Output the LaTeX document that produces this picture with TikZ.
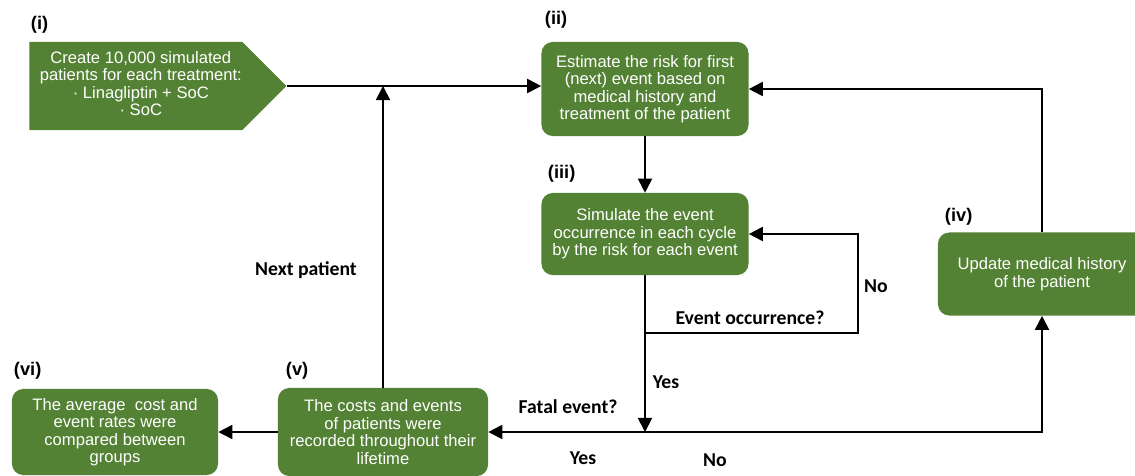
\documentclass[tikz,border=0pt]{standalone}
\usepackage{fontspec}
\setmainfont{Liberation Sans}
\newfontfamily\labelfont{Carlito}
\usepackage{xcolor}
\usepackage{tikz}
\usetikzlibrary{arrows.meta,positioning,shapes.symbols,calc}
\definecolor{StepGreen}{RGB}{84,130,53}

\begin{document}
\begin{tikzpicture}[x=0.025cm,y=-0.025cm,
      box/.style={rectangle,rounded corners=8pt,fill=StepGreen,text=white,
                  inner sep=1pt,font=\fontsize{11.8}{12.4}\selectfont,align=center},
      tag/.style={anchor=west,font=\fontsize{13}{15}\selectfont\bfseries},
      cond/.style={font=\labelfont\fontsize{14}{16}\selectfont\bfseries},
      lin/.style={line width=1.3pt},
      arr/.style={lin,-{Triangle[length=10pt,width=10pt]}}]
    \useasboundingbox (0,0) rectangle (1135,475);
    % boxes
    \node[signal,signal to=east,signal pointer angle=90,fill=StepGreen,text=white,
          minimum width=6.425cm,minimum height=2.2cm,inner sep=0pt,anchor=west,
          font=\fontsize{11.8}{12.4}\selectfont]
          (create) at (29,86) {\hspace{0.25cm}\begin{tabular}{@{}c@{}}Create 10,000 simulated\\
          patients for each treatment:\\· Linagliptin + SoC\\· SoC\end{tabular}};
    \node[box,minimum width=5.175cm,minimum height=2.35cm](estimate) at (645,89)
          {Estimate the risk for first\\(next) event based on\\medical history and\\treatment of the patient};
    \node[box,minimum width=5.175cm,minimum height=2.05cm](simulate) at (645,234)
          {Simulate the event\\occurrence in each cycle\\by the risk for each event};
    \node[box,minimum width=5.2cm,minimum height=2.075cm](update) at (1042,274)
          {Update medical history\\of the patient};
    \node[box,minimum width=5.25cm,minimum height=2.2cm](record) at (383,432)
          {The costs and events\\of patients were\\recorded throughout their\\lifetime};
    \node[box,minimum width=5.15cm,minimum height=2.15cm](compare) at (115,432)
          {The average\ \ cost and\\event rates were\\compared between\\groups};
    % step tags
    \node[tag](tagi) at (26,25){(i)};
    \node[tag](tagii) at (540,20){(ii)};
    \node[tag](tagiii) at (543,174){(iii)};
    \node[tag](tagiv) at (940,217){(iv)};
    \node[tag](tagv) at (281,371){(v)};
    \node[tag](tagvi) at (9,371){(vi)};
    % helper points
    \coordinate (occ) at (simulate.south |- 0,333);
    \coordinate (noturn) at (858,333);
    \coordinate (fatal) at (simulate.south |- record.east);
    % connectors
    \draw[arr](create.east)--(create.east -| estimate.west);
    \draw[arr](record.north)--(record.north |- create.east);
    \draw[arr](estimate.south)--(simulate.north);
    \draw[lin](simulate.south)--(occ);
    \draw[arr](occ)--(noturn)|-(simulate.east);
    \draw[arr](occ)--(fatal);
    \draw[arr](fatal)--(record.east);
    \draw[arr](fatal)-|(update.south);
    \draw[arr](update.north)|-(estimate.east);
    \draw[arr](record.west)--(compare.east);
    % connector labels
    \node[cond](nextlbl) at (306,270){Next patient};
    \node[cond](occlbl) at (750,318){Event occurrence?};
    \node[cond](nolbl) at (876,286){No};
    \node[cond](yeslbl) at (666,382){Yes};
    \node[cond](fatallbl) at (568,407){Fatal event?};
    \node[cond](yesfatal) at (583,458){Yes};
    \node[cond](nofatal) at (715,460){No};
  \end{tikzpicture}
\end{document}
